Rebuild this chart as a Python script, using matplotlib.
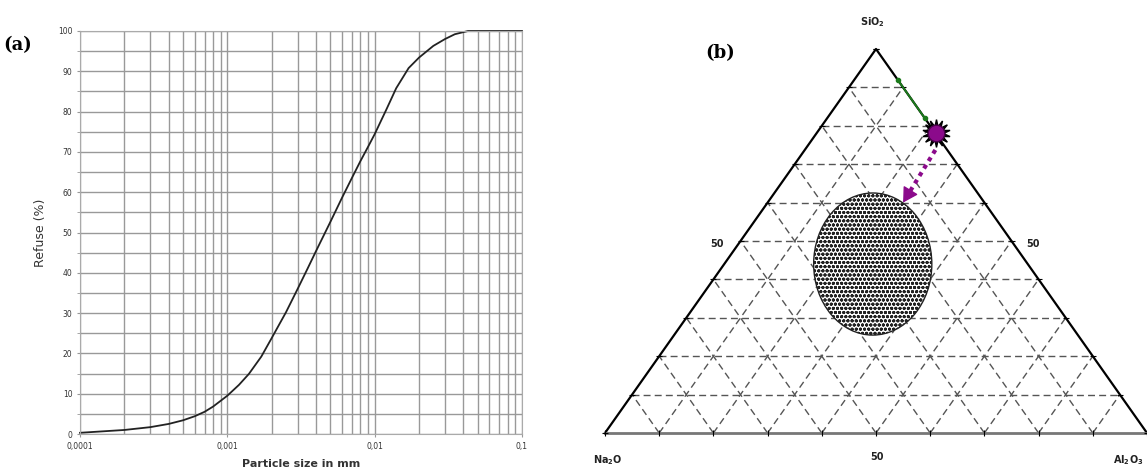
import numpy as np
import matplotlib
matplotlib.use("Agg")
import matplotlib.pyplot as plt
from matplotlib.patches import Ellipse
from matplotlib.ticker import FixedLocator, LogLocator, NullFormatter

# ---- panel (a): particle size distribution ----
size_mm = [1e-4, 2e-4, 3e-4, 4e-4, 5e-4, 6e-4, 7e-4, 8e-4, 1e-3, 1.2e-3,
           1.4e-3, 1.7e-3, 2e-3, 2.5e-3, 3e-3, 3.5e-3, 4e-3, 5e-3, 6e-3,
           7e-3, 8e-3, 9e-3, 1e-2, 1.2e-2, 1.4e-2, 1.7e-2, 2e-2, 2.5e-2,
           3e-2, 3.5e-2, 4.3e-2, 0.1]
refuse = [0.3, 1.0, 1.7, 2.5, 3.4, 4.4, 5.5, 6.8, 9.5, 12.2,
          14.9, 19.2, 23.8, 30.2, 36.0, 41.0, 45.4, 52.6, 58.6,
          63.5, 67.7, 71.2, 74.4, 80.5, 85.8, 90.8, 93.4, 96.3,
          98.0, 99.2, 100.0, 100.0]
x_ticks = [1e-4, 1e-3, 1e-2, 1e-1]
x_tick_labels = ["0,0001", "0,001", "0,01", "0,1"]
y_ticks = list(range(0, 101, 10))

# ---- panel (b): ternary SiO2 / Na2O / Al2O3 (fractions: SiO2, Al2O3) ----
star_comp = (0.78, 0.22)
green_start = (0.92, 0.08)
green_end = (0.82, 0.18)
purple_start = (0.737, 0.241)
purple_end = (0.60, 0.25)
field_center = (0.44, 0.274)
field_size = (0.218, 0.37)  # width, height in triangle units

W, H = 1147, 471
fig = plt.figure(figsize=(W / 100, H / 100), dpi=100)

ax = fig.add_axes([80 / W, 37 / H, 442 / W, 403 / H])
ax.set_xscale("log")
ax.set_xlim(1e-4, 0.1)
ax.set_ylim(0, 100)
ax.xaxis.set_major_locator(FixedLocator(x_ticks))
ax.set_xticklabels(x_tick_labels)
ax.xaxis.set_minor_locator(LogLocator(base=10, subs=np.arange(2, 10)))
ax.xaxis.set_minor_formatter(NullFormatter())
ax.set_yticks(y_ticks)
ax.set_yticks(range(5, 100, 10), minor=True)
ax.grid(True, which="both", color="#999999", lw=1.0)
ax.set_axisbelow(True)
ax.tick_params(axis="both", which="both", length=2, color="#999999",
               labelsize=5.5, labelcolor="#333333")
ax.tick_params(axis="x", which="minor", length=0)
for s in ax.spines.values():
    s.set_color("#aaaaaa")
ax.plot(size_mm, refuse, color="#222222", lw=1.3, clip_on=False)
ax.set_ylabel("Refuse (%)", fontsize=9, color="#333333", labelpad=8)
ax.set_xlabel("Particle size in mm", fontsize=8, fontweight="bold",
              color="#333333", labelpad=6)
fig.text(18 / W, 1 - 45 / H, "(a)", family="serif", fontweight="bold",
         fontsize=13, ha="center", va="center")

# ---- ternary axes ----
bx = fig.add_axes([605 / W, 38 / H, 542 / W, 384 / H])
bx.set_xlim(0, 1)
bx.set_ylim(0, 1)
bx.axis("off")


def cart(si, al):
    return al + si / 2.0, si


grid_kw = dict(color="#555555", lw=1.0, dashes=(5, 3))
for i in range(1, 10):
    f = i / 10
    bx.plot([f / 2, 1 - f / 2], [f, f], **grid_kw)
    bx.plot([f, f + (1 - f) / 2], [0, 1 - f], **grid_kw)
    bx.plot([1 - f, (1 - f) / 2], [0, 1 - f], **grid_kw)

bx.plot([0, 0.5, 1], [0, 1, 0], color="black", lw=1.6, clip_on=False)
bx.plot([0, 1], [0, 0], color="#777777", lw=2.0, clip_on=False)

# edge ticks
ticks = np.arange(0, 11) / 10
bx.plot(ticks, np.zeros_like(ticks), ls="none", marker="|", ms=4,
        color="black", mew=0.8, clip_on=False)
bx.plot(ticks / 2, ticks, ls="none", marker="_", ms=4, color="black",
        mew=0.8, clip_on=False)
bx.plot(1 - ticks / 2, ticks, ls="none", marker="_", ms=4, color="black",
        mew=0.8, clip_on=False)

cx, cy = cart(*field_center)
field = Ellipse((cx, cy), field_size[0], field_size[1], facecolor="white",
                edgecolor="#222222", hatch="oooo", lw=1.0, zorder=3)
bx.add_patch(field)

gx0, gy0 = cart(*green_start)
gx1, gy1 = cart(*green_end)
bx.plot([gx0, gx1], [gy0, gy1], color="#1b7a1b", lw=1.4, marker="o",
        ms=3, zorder=4)

# purple dotted path with a solid head
px0, py0 = cart(*purple_start)
px1, py1 = cart(*purple_end)
t = 0.86
bx.plot([px0, px0 + t * (px1 - px0)], [py0, py0 + t * (py1 - py0)],
        color="#8b0a8b", lw=3.0, ls=(0, (1, 1.1)), zorder=4)
bx.annotate("", xy=(px1, py1),
            xytext=(px0 + t * (px1 - px0), py0 + t * (py1 - py0)),
            arrowprops=dict(arrowstyle="-|>,head_length=0.7,head_width=0.4",
                            color="#8b0a8b", lw=1.0, mutation_scale=13,
                            shrinkA=0, shrinkB=0), zorder=4)

sx, sy = cart(*star_comp)
bx.plot(sx, sy, marker=(14, 1, 0), ms=20, color="black", zorder=5)
bx.plot(sx, sy, marker="o", ms=12, color="#8b0a8b", mec="#4a004a",
        zorder=6)

lab_kw = dict(fontsize=7, fontweight="bold", ha="center", va="center",
              color="#222222")
bx.text(0.493, 1.07, "SiO$_\\mathbf{2}$", **lab_kw)
bx.text(0.006, -0.07, "Na$_\\mathbf{2}$O", **lab_kw)
bx.text(0.965, -0.07, "Al$_\\mathbf{2}$O$_\\mathbf{3}$", **lab_kw)
bx.text(0.207, 0.492, "50", **lab_kw)
bx.text(0.79, 0.492, "50", **lab_kw)
bx.text(0.502, -0.0625, "50", **lab_kw)
bx.text(0.212, 0.99, "(b)", family="serif", fontweight="bold", fontsize=13,
        ha="center", va="center")

fig.savefig("out.png", dpi=100)
